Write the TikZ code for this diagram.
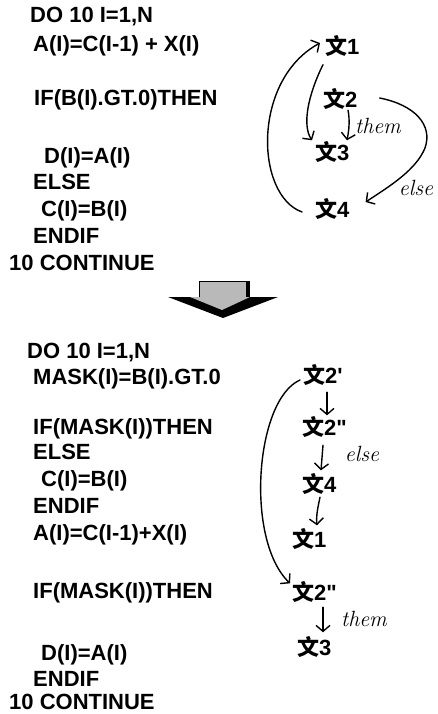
\documentclass[tikz,border=0pt]{standalone}
\usepackage{fontspec}
\newfontfamily\codef{Liberation Sans}
\newfontfamily\cjk{Noto Sans CJK SC}
\usetikzlibrary{arrows.meta}
\begin{document}
\begin{tikzpicture}[x=1bp,y=-1bp,
  code/.style={anchor=west, inner sep=0pt, text height=15.5bp, text depth=0pt,
    font={\codef\bfseries\fontsize{22bp}{26bp}\selectfont}},
  stmt/.style={anchor=west, inner sep=0pt, text height=15bp, text depth=0pt,
    font={\codef\bfseries\fontsize{22bp}{26bp}\selectfont}},
  hand/.style={inner sep=0pt, font={\itshape\fontsize{22bp}{25bp}\selectfont}},
  arr/.style={line width=1.4bp, line cap=round, -{Straight Barb[length=6bp,width=14bp]}}]
\useasboundingbox (0,0) rectangle (438,714);
\fill[white] (0,0) rectangle (438,714);

% ---- top code ----
\node[code] (c1) at (30,15) {DO 10 I=1,N};
\node[code] (c2) at (33,44) {A(I)=C(I-1) + X(I)};
\node[code] (c3) at (34,98) {IF(B(I).GT.0)THEN};
\node[code] (c4) at (44,156) {D(I)=A(I)};
\node[code] (c5) at (33,182) {ELSE};
\node[code] (c6) at (41,209) {C(I)=B(I)};
\node[code] (c7) at (33,236) {ENDIF};
\node[code] (c8) at (9,263) {10 CONTINUE};

% ---- top graph ----
\node[stmt] (t1) at (325,47) {{\cjk 文}1};
\node[stmt] (t2) at (323,100) {{\cjk 文}2};
\node[stmt] (t3) at (315,153) {{\cjk 文}3};
\node[stmt] (t4) at (315,210) {{\cjk 文}4};
\node[hand] (lthen) at (378,126) {them};
\node[hand] (lelse) at (416,188) {else};

\draw[arr] ([shift={(-2,10)}]t1.south west) .. controls (308,95) and (302,125) .. ([shift={(-3,-5)}]t3.north west);
\draw[arr] ([shift={(25,2.5)}]t2.south west) .. controls (350,120) and (349,130) .. ([shift={(32,-5)}]t3.north west);
\draw[arr] ([shift={(22,-2)}]t2.east) .. controls (415,105) and (433,125) .. (425,148)
  .. controls (416,170) and (390,186) .. ([shift={(16,-8)}]t4.east);
\draw[arr] ([shift={(-13,2)}]t4.west) .. controls (255,195) and (252,80) .. ([shift={(-5,-4)}]t1.west);

% ---- big arrow ----
\fill[black] (168,297) -- (278,297) -- (223,318) -- cycle;
\fill[gray!55] (190,297) -- (250,297) -- (222,310) -- cycle;
\fill[gray!55] (199,281) rectangle (250,297);
\draw[black, line width=0.8bp] (199,297) -- (199,281) -- (250,281);
\fill[black] (246,281) rectangle (250,297);

% ---- bottom code ----
\node[code] (d1) at (27,351) {DO 10 I=1,N};
\node[code] (d2) at (33,377) {MASK(I)=B(I).GT.0};
\node[code] (d3) at (33,427) {IF(MASK(I))THEN};
\node[code] (d4) at (33,452) {ELSE};
\node[code] (d5) at (41,479) {C(I)=B(I)};
\node[code] (d6) at (33,506) {ENDIF};
\node[code] (d7) at (33,533) {A(I)=C(I-1)+X(I)};
\node[code] (d8) at (33,591) {IF(MASK(I))THEN};
\node[code] (d9) at (41,653) {D(I)=A(I)};
\node[code] (d10) at (33,679) {ENDIF};
\node[code] (d11) at (9,702) {10 CONTINUE};

% ---- bottom graph ----
\node[stmt] (b2p) at (303,376) {{\cjk 文}2'};
\node[stmt] (b2a) at (302,428) {{\cjk 文}2"};
\node[stmt] (b4) at (302,485) {{\cjk 文}4};
\node[stmt] (b1) at (292,540) {{\cjk 文}1};
\node[stmt] (b2b) at (292,593) {{\cjk 文}2"};
\node[stmt] (b3) at (297,648) {{\cjk 文}3};
\node[hand] (lelse2) at (362,454) {else};
\node[hand] (lthen2) at (364,619) {them};

\draw[arr] ([shift={(24,8.5)}]b2p.south west) -- ([shift={(25,-5)}]b2a.north west);
\draw[arr] ([shift={(21,9.5)}]b2a.south west) -- ([shift={(19,-7)}]b4.north west);
\draw[arr] ([shift={(18,4.5)}]b4.south west) .. controls (318,507) and (316,515) .. ([shift={(25,-7)}]b1.north west);
\draw[arr] ([shift={(31,6.5)}]b2b.south west) -- ([shift={(26,-8)}]b3.north west);
\draw[arr] ([shift={(-3,4)}]b2p.west) .. controls (255,400) and (245,540) .. ([shift={(-2,-2)}]b2b.north west);
\end{tikzpicture}
\end{document}
